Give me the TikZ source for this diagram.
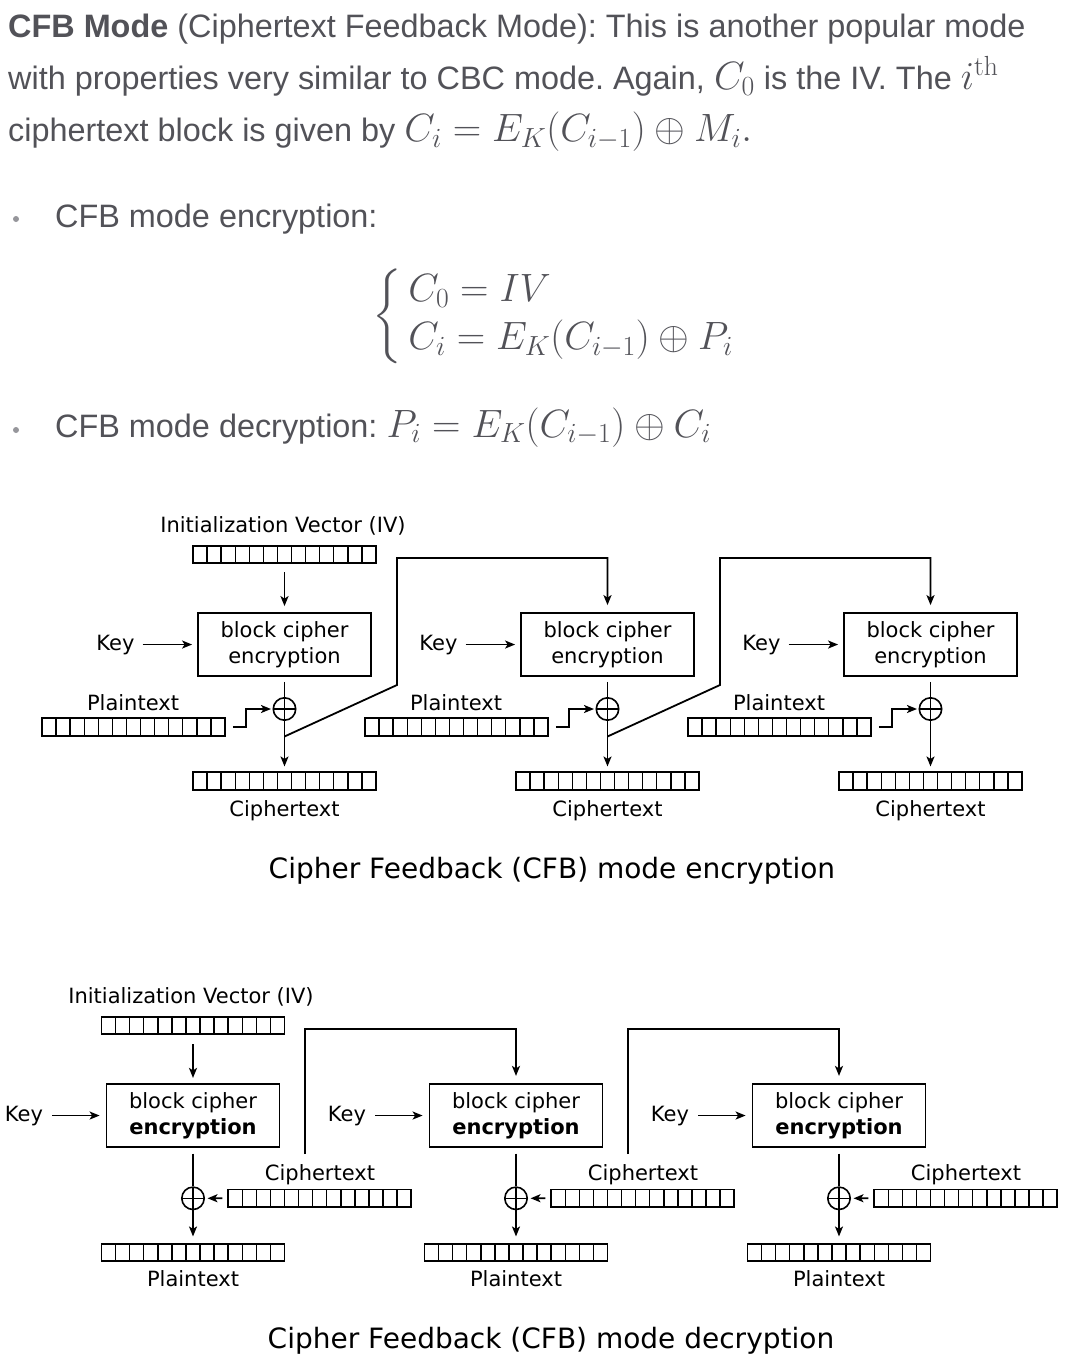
\RequirePackage{fix-cm}
\documentclass[tikz,border=0pt]{standalone}
\DeclareFontShape{OMX}{cmex}{m}{n}{<-> cmex10}{}
\usepackage[no-math]{fontspec}
\setmainfont{Liberation Sans}
\newfontfamily\dejavu{DejaVu Sans}
\usetikzlibrary{arrows.meta,calc}
\definecolor{txt}{RGB}{82,82,88}
\definecolor{bul}{RGB}{150,150,155}
\newcommand\mth[1]{{\fontsize{39.5}{46}\selectfont$#1$}}
\frenchspacing
\begin{document}
\begin{tikzpicture}[x=1pt,y=-1pt,
  hdr/.style={font=\fontsize{32.4}{38}\selectfont, text=txt, anchor=base west, inner sep=0pt},
  lab/.style={font=\dejavu\fontsize{21}{26}\selectfont, anchor=base, inner sep=0pt},
  capt/.style={font=\dejavu\fontsize{28}{32}\selectfont, anchor=base, inner sep=0pt},
  cbox/.style={draw, line width=1.8pt, minimum width=173pt, minimum height=63pt, inner sep=0pt,
    align=center, font=\dejavu\fontsize{21}{26}\selectfont},
  reg/.style={draw, line width=1.6pt, minimum width=183pt, minimum height=17.5pt, inner sep=0pt,
    path picture={\foreach \j in {1,...,12}
      \draw[line width=1.4pt] ($(path picture bounding box.south west)!\j/13!(path picture bounding box.south east)$)
        -- ($(path picture bounding box.north west)!\j/13!(path picture bounding box.north east)$);}},
  xor/.style={draw, circle, line width=1.6pt, minimum size=22.4pt, inner sep=0pt,
    path picture={\draw[line width=1.6pt] (path picture bounding box.north) -- (path picture bounding box.south)
      (path picture bounding box.west) -- (path picture bounding box.east);}},
  conn/.style={line width=1.8pt},
  arr/.style={conn, -{Stealth[length=10pt,width=8pt,inset=2.5pt]}},
  bulletdot/.style={circle, fill=bul, minimum size=6pt, inner sep=0pt}
]
\useasboundingbox[fill=white] (0,0) rectangle (1066,1370);

% ---------- header text ----------
\node[hdr] (h1) at (8,38) {\textbf{CFB Mode} (Ciphertext Feedback Mode): This is another popular mode};
\node[hdr] (h2) at (8,90) {with properties very similar to CBC mode. Again, \mth{C_0} is the IV. The \mth{i^{\mathrm{th}}}};
\node[hdr] (h3) at (8,142) {ciphertext block is given by \mth{C_i = E_K(C_{i-1}) \oplus M_i.}};
\node[bulletdot] (b1) at (16,219) {};
\node[hdr] (t1) at (55,227) {CFB mode encryption:};
\node[text=txt, anchor=west, inner sep=0pt, font=\fontsize{39.5}{46}\selectfont] (eq) at (372,316)
  {$\def\arraystretch{1.03}\left\{\begin{array}{@{\,}l@{}}C_0 = IV\\ C_i = E_K(C_{i-1}) \oplus P_i\end{array}\right.$};
\node[bulletdot] (b2) at (16,430) {};
\node[hdr] (t2) at (55,437) {CFB mode decryption: \mth{P_i = E_K(C_{i-1}) \oplus C_i}};

% ---------- encryption diagram ----------
\node[lab] (eivl) at (283,532) {Initialization Vector (IV)};
\node[reg] (eiv) at (284.5,554.5) {};
\foreach \k in {0,1,2}{
  \node[cbox] (eb\k) at ({284.5+323*\k},644.5) {block cipher\\encryption};
  \node[lab] (ek\k) at ({115.5+323*\k},650) {Key};
  \node[xor] (ex\k) at ({284.5+323*\k},709) {};
  \node[reg] (ep\k) at ({133.5+323*\k},727) {};
  \node[lab] (epl\k) at ({133+323*\k},710) {Plaintext};
  \node[reg] (ec\k) at ({284.5+323*\k},781) {};
  \node[lab] (ecl\k) at ({284.5+323*\k},816) {Ciphertext};
  \coordinate (ef\k) at ({284.5+323*\k},736.5);
  \draw[arr] ([xshift=8pt]ek\k.east) -- ([xshift=-5pt]ek\k.east -| eb\k.west);
  \draw[conn] ([yshift=-5pt]eb\k.south) -- (ex\k.north);
  \draw[arr] (ex\k.south) -- ([yshift=5pt]ec\k.north);
  \draw[arr] ([xshift=7pt]ep\k.east) -- ++(13.5,0) |- ([xshift=-1.5pt]ex\k.west);
}
\draw[arr] ([yshift=-8pt]eiv.south) -- ([yshift=6pt]eb0.north);
\foreach \k/\kk in {0/1,1/2}{
  \draw[arr] (ef\k) -- ({397+323*\k},685) -- ({397+323*\k},558) -| ([yshift=7pt]eb\kk.north);
}
\node[capt] (ecap) at (552,878) {Cipher Feedback (CFB) mode encryption};

% ---------- decryption diagram ----------
\node[lab] (divl) at (191,1003) {Initialization Vector (IV)};
\node[reg] (div) at (193,1025.5) {};
\foreach \k in {0,1,2}{
  \node[cbox] (db\k) at ({193+323*\k},1115.3) {block cipher\\\textbf{encryption}};
  \node[lab] (dk\k) at ({24+323*\k},1121) {Key};
  \node[xor] (dx\k) at ({193+323*\k},1198.3) {};
  \node[reg] (dc\k) at ({319.7+323*\k},1198.2) {};
  \node[lab] (dcl\k) at ({320+323*\k},1180) {Ciphertext};
  \node[reg] (dp\k) at ({193+323*\k},1252.5) {};
  \node[lab] (dpl\k) at ({193+323*\k},1286.7) {Plaintext};
  \draw[arr] ([xshift=9pt]dk\k.east) -- ([xshift=-6pt]dk\k.east -| db\k.west);
  \draw[conn] ([yshift=-6pt]db\k.south) -- (dx\k.north);
  \draw[arr] (dx\k.south) -- ([yshift=6.5pt]dp\k.north);
  \draw[arr] ([xshift=-5pt]dc\k.west) -- ([xshift=2.5pt]dx\k.east);
}
\draw[arr] ([yshift=-9pt]div.south) -- ([yshift=5pt]db0.north);
\foreach \k/\kk in {0/1,1/2}{
  \coordinate (df\k) at ({305+323*\k},1154);
  \draw[arr] (df\k) -- ({305+323*\k},1029.3) -| ([yshift=7pt]db\kk.north);
}
\node[capt] (dcap) at (551,1348) {Cipher Feedback (CFB) mode decryption};
\end{tikzpicture}
\end{document}
